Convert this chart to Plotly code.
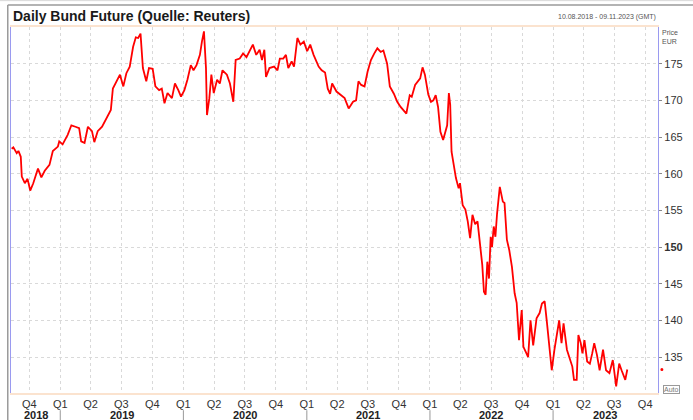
import plotly.graph_objects as go
import datetime as dt

# ---- data ----
dates = [
    "2018-08-10", "2018-08-15", "2018-08-25", "2018-08-30", "2018-09-06", "2018-09-09",
    "2018-09-18", "2018-09-26", "2018-10-04", "2018-10-13", "2018-10-27", "2018-11-06",
    "2018-11-16", "2018-11-30", "2018-12-10", "2018-12-25", "2018-12-29", "2019-01-08",
    "2019-01-23", "2019-02-03", "2019-02-15", "2019-02-26", "2019-03-04", "2019-03-14",
    "2019-03-24", "2019-04-05", "2019-04-12", "2019-04-22", "2019-05-05", "2019-05-13",
    "2019-05-24", "2019-05-31", "2019-06-06", "2019-06-17", "2019-06-27", "2019-07-07",
    "2019-07-16", "2019-07-26", "2019-08-05", "2019-08-13", "2019-08-20", "2019-08-27",
    "2019-09-03", "2019-09-13", "2019-09-21", "2019-10-02", "2019-10-10", "2019-10-21",
    "2019-10-29", "2019-11-06", "2019-11-15", "2019-11-28", "2019-12-07", "2019-12-17",
    "2019-12-25", "2020-01-04", "2020-01-13", "2020-01-23", "2020-01-31", "2020-02-09",
    "2020-02-19", "2020-02-25", "2020-03-02", "2020-03-08", "2020-03-11", "2020-03-18",
    "2020-03-24", "2020-03-31", "2020-04-10", "2020-04-18", "2020-04-26", "2020-05-09",
    "2020-05-18", "2020-05-28", "2020-06-04", "2020-06-16", "2020-06-26", "2020-07-06",
    "2020-07-16", "2020-07-25", "2020-08-04", "2020-08-14", "2020-08-21", "2020-08-28",
    "2020-09-02", "2020-09-12", "2020-09-26", "2020-10-06", "2020-10-13", "2020-10-23",
    "2020-10-31", "2020-11-07", "2020-11-17", "2020-11-24", "2020-12-04", "2020-12-13",
    "2020-12-23", "2021-01-02", "2021-01-11", "2021-01-21", "2021-02-05", "2021-02-14",
    "2021-02-24", "2021-03-04", "2021-03-11", "2021-03-17", "2021-03-30", "2021-04-14",
    "2021-04-23", "2021-05-05", "2021-05-18", "2021-05-27", "2021-06-03", "2021-06-11",
    "2021-06-21", "2021-06-30", "2021-07-10", "2021-07-20", "2021-07-29", "2021-08-08",
    "2021-08-16", "2021-08-27", "2021-09-04", "2021-09-16", "2021-09-26", "2021-10-06",
    "2021-10-15", "2021-10-23", "2021-11-02", "2021-11-08", "2021-11-18", "2021-11-26",
    "2021-12-03", "2021-12-10", "2021-12-17", "2021-12-27", "2022-01-04", "2022-01-11",
    "2022-01-18", "2022-01-25", "2022-02-01", "2022-02-09", "2022-02-17", "2022-02-21",
    "2022-02-26", "2022-03-02", "2022-03-06", "2022-03-12", "2022-03-19", "2022-03-27",
    "2022-03-31", "2022-04-08", "2022-04-16", "2022-04-23", "2022-04-30", "2022-05-07",
    "2022-05-15", "2022-05-22", "2022-05-30", "2022-06-05", "2022-06-10", "2022-06-15",
    "2022-06-20", "2022-06-25", "2022-06-30", "2022-07-04", "2022-07-09", "2022-07-14",
    "2022-07-19", "2022-07-27", "2022-08-05", "2022-08-10", "2022-08-17", "2022-08-24",
    "2022-09-01", "2022-09-09", "2022-09-15", "2022-09-22", "2022-09-30", "2022-10-05",
    "2022-10-12", "2022-10-19", "2022-10-26", "2022-11-03", "2022-11-13", "2022-11-22",
    "2022-11-29", "2022-12-07", "2022-12-14", "2022-12-21", "2022-12-28", "2023-01-05",
    "2023-01-13", "2023-01-19", "2023-01-26", "2023-02-01", "2023-02-11", "2023-02-20",
    "2023-02-27", "2023-03-04", "2023-03-12", "2023-03-17", "2023-03-24", "2023-03-29",
    "2023-04-04", "2023-04-12", "2023-04-20", "2023-04-27", "2023-05-03", "2023-05-11",
    "2023-05-19", "2023-05-29", "2023-06-07", "2023-06-17", "2023-06-27", "2023-07-07",
    "2023-07-16", "2023-07-23", "2023-07-30", "2023-08-03", "2023-08-09",
]
prices = [
    163.4, 163.6, 162.8, 163.1, 162.3, 159.6,
    158.7, 159.3, 157.7, 158.7, 160.7, 159.5,
    160.4, 161.2, 163.1, 163.7, 164.4, 164.0,
    165.3, 166.6, 166.4, 166.2, 164.4, 164.2,
    166.4, 165.8, 164.3, 165.8, 166.4, 167.1,
    168.2, 168.7, 171.6, 172.6, 173.5, 171.9,
    173.7, 174.6, 177.3, 178.6, 178.5, 179.1,
    174.4, 172.6, 174.4, 174.3, 171.9, 171.4,
    171.6, 169.6, 171.0, 170.3, 172.3, 171.4,
    170.5, 171.4, 172.8, 174.8, 174.1, 174.8,
    176.2, 178.0, 179.4, 174.4, 168.0, 170.3,
    173.5, 171.0, 172.8, 172.3, 174.1, 173.5,
    172.3, 169.8, 175.5, 175.7, 176.4, 175.9,
    176.9, 177.6, 176.2, 176.9, 175.5, 176.9,
    173.2, 174.4, 174.6, 174.1, 175.7, 175.7,
    176.2, 174.4, 175.3, 174.6, 178.5, 177.6,
    178.0, 176.7, 177.6, 176.2, 174.6, 174.1,
    173.8, 171.6, 170.9, 172.3, 171.2, 170.7,
    170.3, 168.9, 169.8, 170.0, 172.6, 172.1,
    171.9, 173.9, 175.5, 176.4, 177.1, 176.6,
    176.8, 175.0, 171.9, 170.9, 169.8, 169.1,
    168.6, 168.2, 170.7, 170.5, 172.1, 172.6,
    173.0, 174.5, 173.5, 170.8, 169.8, 170.0,
    170.7, 169.1, 165.7, 164.6, 165.9, 166.6,
    171.0, 169.4, 163.0, 161.2, 159.4, 158.0,
    158.7, 155.7, 155.1, 153.5, 151.2, 154.4,
    153.1, 153.5, 150.3, 147.6, 143.9, 143.5,
    148.0, 145.7, 151.4, 150.0, 152.8, 151.4,
    154.6, 158.2, 156.2, 156.0, 151.0, 149.6,
    147.3, 143.7, 142.4, 137.3, 141.4, 136.4,
    135.7, 135.0, 140.0, 136.6, 140.3, 141.0,
    142.3, 142.6, 139.6, 136.0, 133.2, 136.0,
    138.2, 140.0, 136.9, 139.6, 136.0, 134.6,
    133.7, 131.9, 131.9, 138.0, 136.9, 135.5,
    137.3, 134.4, 134.1, 135.5, 136.9, 135.3,
    133.2, 136.0, 133.2, 132.8, 134.6, 131.0,
    134.1, 133.2, 132.5, 131.9, 133.3,
]

y_ticks = [135, 140, 145, 150, 155, 160, 165, 170, 175]
y_ticktext = ["135", "140", "145", "<b>150</b>", "155", "160", "165", "170", "175"]
quarter_ticks = [
    "2018-10-01",
    "2019-01-01", "2019-04-01", "2019-07-01", "2019-10-01",
    "2020-01-01", "2020-04-01", "2020-07-01", "2020-10-01",
    "2021-01-01", "2021-04-01", "2021-07-01", "2021-10-01",
    "2022-01-01", "2022-04-01", "2022-07-01", "2022-10-01",
    "2023-01-01", "2023-04-01", "2023-07-01", "2023-10-01",
]
quarter_labels = ["Q4"] + ["Q1", "Q2", "Q3", "Q4"] * 5
years = [2018, 2019, 2020, 2021, 2022, 2023]
x_start, x_end = "2018-08-08", "2023-11-08"
title_text = "Daily Bund Future (Quelle: Reuters)"
range_text = "10.08.2018 - 09.11.2023 (GMT)"

FONT = "Liberation Sans, Arial, sans-serif"

fig = go.Figure()
fig.add_trace(go.Scatter(
    x=dates, y=prices, mode="lines",
    line=dict(color="#ff0000", width=1.8),
    hoverinfo="skip", showlegend=False,
))

# year labels centred in the visible part of each year
d0 = dt.date.fromisoformat(x_start)
d1 = dt.date.fromisoformat(x_end)
annotations = []
shapes = []
for yr in years:
    a = max(dt.date(yr, 1, 1), d0)
    b = min(dt.date(yr + 1, 1, 1), d1)
    mid = a + (b - a) / 2
    annotations.append(dict(
        x=mid.isoformat(), xref="x", y=-0.061, yref="paper",
        text=f"<b>{yr}</b>", showarrow=False, yanchor="middle",
        font=dict(family=FONT, size=11, color="#222"),
    ))
    if dt.date(yr, 1, 1) > d0:
        shapes.append(dict(
            type="line", xref="x", yref="paper",
            x0=f"{yr}-01-01", x1=f"{yr}-01-01", y0=-0.047, y1=-0.08,
            line=dict(color="#999", width=1),
        ))

annotations += [
    dict(x=0, xref="paper", y=1.030, yref="paper", xanchor="left", yanchor="middle",
         text=f"<b>{title_text}</b>", showarrow=False,
         font=dict(family=FONT, size=14, color="#1a1a1a")),
    dict(x=1.0, xref="paper", y=1.012, yref="paper", xanchor="right", yanchor="bottom",
         text=range_text, showarrow=False,
         font=dict(family=FONT, size=7, color="#555")),
    dict(x=1.0, xref="paper", y=1.0, yref="paper", xanchor="left", yanchor="top",
         text="Price<br>EUR", showarrow=False, align="left", xshift=2,
         font=dict(family=FONT, size=7, color="#555")),
    dict(x=1.0, xref="paper", y=0.0, yref="paper", xanchor="left", yanchor="bottom",
         text="Auto", showarrow=False, xshift=5, yshift=-1,
         bordercolor="#999", borderwidth=1, borderpad=0,
         font=dict(family=FONT, size=7, color="#777")),
]

# outer frame lines
shapes += [
    dict(type="line", xref="paper", yref="paper", x0=-0.005, x1=1.1, y0=1.06, y1=1.06,
         line=dict(color="#9a9a9a", width=1.5)),
    dict(type="line", xref="paper", yref="paper", x0=-0.005, x1=-0.005, y0=1.06, y1=-0.1,
         line=dict(color="#9a9a9a", width=1.5)),
    dict(type="line", xref="paper", yref="paper", x0=-0.02, x1=1.1, y0=1.072, y1=1.072,
         line=dict(color="#d8d8d8", width=1)),
    # last price marker on the right axis
    dict(type="circle", xref="paper", yref="y", xsizemode="pixel", ysizemode="pixel",
         xanchor=1.006, yanchor=prices[-1], x0=-1.5, x1=1.5, y0=-1.5, y1=1.5,
         fillcolor="#ff0000", line=dict(color="#ff0000", width=0)),
]

fig.update_layout(
    width=693, height=420,
    margin=dict(l=10, r=25, t=27, b=26),
    paper_bgcolor="white", plot_bgcolor="white",
    font=dict(family=FONT, size=11, color="#333"),
    annotations=annotations, shapes=shapes,
    showlegend=False,
)
fig.update_xaxes(
    type="date", range=[x_start, x_end],
    tickvals=quarter_ticks, ticktext=quarter_labels,
    tickfont=dict(family=FONT, size=11, color="#333"),
    showgrid=True, gridcolor="#d9d9d9", griddash="dot", gridwidth=1,
    showline=True, linecolor="#fbe3cf", linewidth=1.5, mirror=True,
    ticks="", zeroline=False,
)
fig.update_yaxes(
    side="right", range=[130.1, 180.0],
    tickvals=y_ticks, ticktext=y_ticktext,
    tickfont=dict(family=FONT, size=11, color="#333"),
    showgrid=True, gridcolor="#d9d9d9", griddash="dot", gridwidth=1,
    showline=True, linecolor="#9a9af0", linewidth=1.2, mirror=True,
    ticks="outside", ticklen=3, tickcolor="#888", zeroline=False,
)

fig.write_html(
    "out.html",
    config={"displayModeBar": False},
    post_script="document.body.style.margin='0';document.body.style.overflow='hidden';",
)
